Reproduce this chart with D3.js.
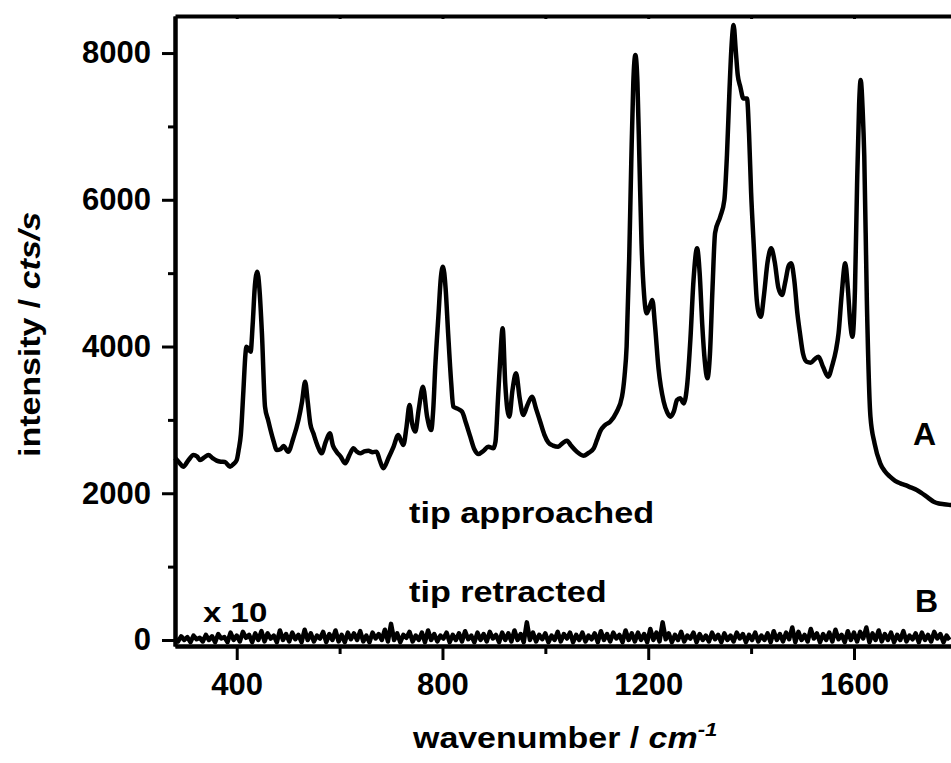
<!DOCTYPE html>
<html>
<head>
<meta charset="utf-8">
<script src="https://cdn.jsdelivr.net/npm/d3@7"></script>
<style>
  body { margin: 0; background: #fff; }
  svg { display: block; }
  text { font-family: "Liberation Sans", Arial, sans-serif; font-weight: bold; fill: #000; }
</style>
</head>
<body>
<div id="chart"></div>
<script>
// spectrum A (tip approached)
const waveA = [280,288,296,306,316,323,329,337,345,353,361,369,377,387,394,400,404,408,413,417,419,424,427,431,435,440,444,449,455,461,471,478,485,491,500,510,520,527,533,538,543,549,557,565,573,581,587,594,602,611,619,627,633,640,648,656,664,672,678,685,695,705,714,719,724,730,736,741,747,754,762,770,778,782,786,792,797,801,806,811,817,821,830,838,846,854,862,870,880,889,899,903,908,912,917,922,926,930,936,943,950,957,965,974,982,990,998,1006,1015,1025,1033,1042,1050,1061,1074,1084,1094,1100,1107,1116,1126,1138,1149,1154,1158,1163,1167,1171,1175,1179,1183,1187,1192,1197,1203,1208,1213,1220,1230,1237,1243,1250,1256,1262,1269,1276,1282,1288,1295,1300,1305,1310,1315,1320,1325,1330,1340,1348,1353,1358,1362,1366,1370,1374,1379,1385,1392,1396,1400,1405,1411,1415,1419,1425,1432,1439,1446,1453,1460,1467,1473,1478,1484,1490,1495,1501,1508,1516,1524,1531,1540,1550,1558,1565,1570,1576,1583,1588,1593,1597,1602,1606,1610,1613,1617,1620,1625,1632,1640,1651,1660,1670,1680,1690,1700,1710,1722,1732,1742,1755,1765,1775,1787,1800];
const intensA = [2480,2420,2362,2450,2521,2500,2453,2490,2521,2480,2444,2430,2426,2362,2400,2453,2600,2800,3400,3900,3998,3950,3930,4300,4800,5020,4800,4180,3180,2998,2726,2590,2600,2644,2567,2750,2998,3250,3520,3250,2950,2817,2650,2544,2700,2817,2650,2567,2500,2408,2520,2612,2570,2544,2570,2580,2560,2567,2450,2340,2480,2635,2794,2720,2658,2900,3203,2950,2840,3150,3452,3050,2862,3135,3725,4406,4950,5088,4800,4180,3500,3180,3150,3112,2950,2771,2600,2535,2580,2635,2612,2700,3300,3800,4248,3498,3150,3044,3400,3634,3300,3066,3200,3316,3150,2975,2800,2690,2650,2635,2680,2717,2650,2567,2512,2550,2612,2720,2850,2930,2975,3100,3316,3600,4000,5200,6500,7600,7973,7600,6500,5400,4700,4452,4550,4634,4300,3700,3250,3100,3044,3120,3270,3294,3225,3500,4100,4900,5338,5000,4300,3800,3566,3900,4800,5550,5769,5997,6600,7500,8100,8382,8050,7700,7541,7382,7382,6900,6100,5400,4634,4450,4406,4700,5150,5338,5150,4800,4702,4900,5100,5134,4900,4450,4180,3900,3793,3780,3830,3861,3720,3589,3750,3950,4180,4700,5134,4800,4300,4134,4800,6200,7300,7632,7200,6600,4634,3044,2680,2408,2300,2226,2170,2135,2110,2080,2044,2000,1950,1885,1860,1850,1840,1830];

// spectrum B (tip retracted, x 10), sampled every 6 cm-1 from 280
const startB = 280, stepB = 6;
const intensB = [
  20,-20,50,0,40,-30,60,10,30,-20,
  70,0,50,-30,80,20,40,-30,100,0,
  60,-20,110,30,70,-30,90,0,120,-20,
  90,20,60,-30,130,0,80,-20,100,10,
  70,-30,140,0,90,-20,60,20,110,-30,
  80,0,130,-20,70,-30,100,10,90,0,
  120,-20,60,-30,100,20,80,0,140,-20,
  220,0,90,-30,70,30,110,-20,60,0,
  100,-30,130,0,80,-20,60,20,100,-30,
  70,0,90,-20,120,10,60,-30,100,0,
  80,-20,110,20,70,-30,100,0,90,-20,
  130,0,80,-30,240,0,100,-20,70,10,
  90,-30,60,0,110,-20,80,20,100,-30,
  70,0,100,-20,60,10,90,-30,120,0,
  80,-20,100,20,70,-30,130,0,90,-20,
  100,0,80,-30,150,0,100,-20,240,10,
  90,-30,70,0,110,-20,60,20,100,-30,
  80,0,60,-20,100,10,70,-30,90,0,
  60,-20,100,20,80,-30,70,0,100,-20,
  60,0,90,-30,120,0,80,-20,100,10,
  170,-30,110,0,70,-20,150,20,90,-30,
  80,0,100,-20,140,10,70,-30,120,0,
  100,-20,110,20,170,-30,90,0,130,-20,
  80,0,100,-30,70,0,120,-20,60,10,
  90,-30,100,0,70,-20,110,20,80,-30,60,0
];

const yMajor = [0,2000,4000,6000,8000];
const yMinor = [1000,3000,5000,7000];
const xMajor = [400,800,1200,1600];
const xMinor = [600,1000,1400];
const xTop = [400,600,800,1000,1200,1400,1600];

const W = 951, H = 763;
const margin = {top:16, left:175};
const plotW = 787, plotH = 630;

const svg = d3.select("#chart").append("svg")
    .attr("width", W)
    .attr("height", H);

const g = svg.append("g")
    .attr("transform", "translate(" + margin.left + "," + margin.top + ")");

const x = d3.scaleLinear().domain([280, 1810]).range([0, plotW]);
const y = d3.scaleLinear().domain([-82, 8505]).range([plotH, 0]);

// spectra
const lineA = d3.line()
    .x(function(d,i){ return x(waveA[i]); })
    .y(function(d){ return y(d); })
    .curve(d3.curveMonotoneX);

g.append("path")
    .datum(intensA)
    .attr("d", lineA)
    .attr("fill", "none")
    .attr("stroke", "#000")
    .attr("stroke-width", 4.5)
    .attr("stroke-linejoin", "round");

const lineB = d3.line()
    .x(function(d,i){ return x(startB + stepB * i); })
    .y(function(d){ return y(d); });

g.append("path")
    .datum(intensB)
    .attr("d", lineB)
    .attr("fill", "none")
    .attr("stroke", "#000")
    .attr("stroke-width", 4.5)
    .attr("stroke-linejoin", "round");

// axes
function styleAxis(sel){
  sel.select(".domain").attr("stroke", "#000").attr("stroke-width", 4);
  sel.selectAll(".tick line").attr("stroke", "#000").attr("stroke-width", 3);
  sel.selectAll(".tick text")
    .attr("font-size", 31)
    .attr("font-family", "'Liberation Sans', Arial, sans-serif")
    .attr("font-weight", "bold")
    .attr("fill", "#000");
}

g.append("g")
    .call(d3.axisLeft(y).tickValues(yMinor).tickSize(7).tickSizeOuter(0).tickFormat(""))
    .call(styleAxis);
g.append("g")
    .call(d3.axisLeft(y).tickValues(yMajor).tickSize(13).tickSizeOuter(0).tickPadding(11).tickFormat(d3.format("d")))
    .call(styleAxis);

g.append("g")
    .attr("transform", "translate(0," + plotH + ")")
    .call(d3.axisBottom(x).tickValues(xMinor).tickSize(8).tickSizeOuter(0).tickFormat(""))
    .call(styleAxis);
g.append("g")
    .attr("transform", "translate(0," + plotH + ")")
    .call(d3.axisBottom(x).tickValues(xMajor).tickSize(14).tickSizeOuter(0).tickFormat(d3.format("d")))
    .call(styleAxis)
    .call(function(a){ a.selectAll(".tick text").attr("y", 49).attr("dy", null); });

g.append("g")
    .call(d3.axisTop(x).tickValues(xTop).tickSize(-3).tickSizeOuter(0).tickFormat(""))
    .call(styleAxis);

// labels
function label(str, px, py, size, sx, rot){
  const t = svg.append("text")
    .attr("font-size", size)
    .attr("transform", "translate(" + px + "," + py + ")" + (rot ? " rotate(" + rot + ")" : "") + " scale(" + sx + ",1)");
  if (str) t.text(str);
  return t;
}

label("tip approached", 409, 523, 30, 1.14);
label("tip retracted", 409, 602, 30, 1.14);
label("x 10", 203, 622, 28, 1.18);
label("A", 913, 445, 32, 1);
label("B", 915, 612, 32, 1);

const xt = label(null, 413, 748, 29, 1.17);
xt.append("tspan").text("wavenumber / ");
xt.append("tspan").attr("font-style", "italic").text("cm");
xt.append("tspan").attr("font-style", "italic").attr("font-size", 19).attr("dy", -12).text("-1");

const yt = label(null, 40, 457, 29, 1.17, -90);
yt.append("tspan").text("intensity / ");
yt.append("tspan").attr("font-style", "italic").text("cts/s");
</script>
</body>
</html>
